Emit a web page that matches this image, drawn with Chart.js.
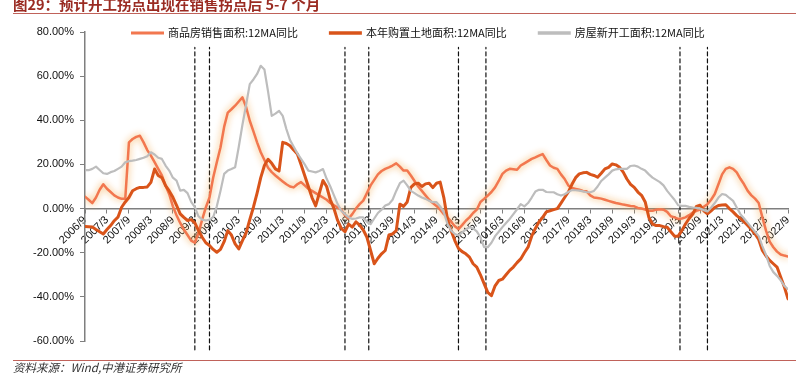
<!DOCTYPE html>
<html>
<head>
<meta charset="utf-8">
<script src="https://cdn.jsdelivr.net/npm/chart.js@4.4.1/dist/chart.umd.min.js"></script>
<style>
  html, body { margin: 0; padding: 0; background: #fff; }
  #wrap { width: 796px; height: 377px; }
</style>
</head>
<body>
<div id="wrap"><canvas id="growthChart" width="796" height="377"></canvas></div>
<script>
// tick labels on the x axis, one every 6 months from 2006/9
const tickLabels = [
	'2006/9', '2007/3', '2007/9', '2008/3', '2008/9', '2009/3', '2009/9', '2010/3', '2010/9',
	'2011/3', '2011/9', '2012/3', '2012/9', '2013/3', '2013/9', '2014/3', '2014/9', '2015/3',
	'2015/9', '2016/3', '2016/9', '2017/3', '2017/9', '2018/3', '2018/9', '2019/3', '2019/9',
	'2020/3', '2020/9', '2021/3', '2021/9', '2022/3', '2022/9'
];

const seriesNames = ['商品房销售面积:12MA同比', '本年购置土地面积:12MA同比', '房屋新开工面积:12MA同比'];

// monthly values (%), first value = 2006/9, last = 2022/9
const salesArea = [
	5.4, 4, 2.5, 5, 8.5, 11, 9, 7.5, 6, 5, 4.4, 4.5,
	30, 31.5, 32.5, 33, 30, 26.5, 24, 21, 18, 15, 10.5, 6.5,
	1, -3, -6.5, -9.5, -12, -14.5, -15.5, -11, -5, 0.5, 5, 14,
	21, 27.7, 37, 43.5, 45, 46.6, 48.5, 50.4, 46, 39.8, 35, 30,
	25.5, 22, 18.5, 16.5, 15, 13.6, 12.3, 11, 10, 9.6, 11, 12,
	10.5, 9, 8, 7, 6, 5, 4, 2.5, 1.5, 0.5, -0.5, -3,
	-4.5, -2.5, 0, 2, 3.6, 7, 10.5, 13, 15.5, 17, 18, 18.7,
	19.5, 20.5, 19, 17.2, 17.2, 15, 12.5, 10, 8, 6, 4, 2.5,
	1.2, -0.5, -2.5, -4, -6, -8, -9.3, -7.5, -5.5, -4, -2, -0.5,
	3, 4.4, 5.9, 7.5, 9.6, 12.5, 15.7, 17.2, 18, 17.8, 17.6, 19.5,
	20.5, 21.5, 22.5, 23.2, 24, 24.7, 22, 19.5, 18.5, 18, 15.5, 13.4,
	10.5, 9.3, 8.9, 8.5, 8, 7.8, 6, 5, 4.8, 4.5, 4, 3.5,
	3, 2.5, 2.2, 1.8, 1.5, 1.2, 1, 0.3, 0, -0.5, -1, -1,
	-0.5, -0.3, -0.5, -1.5, -3.5, -4, -4.7, -4.5, -4, -3, -1.8, -1,
	-0.5, 0.8, 2, 4, 6.6, 11, 15.5, 18, 18.7, 18, 16.4, 13.5,
	11, 8, 6, 4.5, 2.5, -4, -10, -15, -17.5, -19.5, -20.8, -21.3,
	-21.7
];

const landArea = [
	-8.1, -8.2, -8.4, -9.5, -10.5, -11.5, -9.5, -7.7, -5.5, -3.9, 0.6, 3,
	5, 8.1, 9, 9.6, 9.6, 9.8, 11.9, 17.9, 15, 14, 10.4, 8,
	5.1, 1.5, -2.4, -4, -5.4, -5, -6.5, -10, -13, -15.5, -16.7, -18.5,
	-19.8, -18.5, -15, -10, -12, -16, -18.3, -14.5, -11, -5, 0.6, 7,
	14, 19.5, 22.3, 20.5, 18, 17, 30, 29.5, 28.5, 26.5, 24.7, 20,
	15, 10, 5, 1.2, 7, 12.7, 10, 4, 0, -5.4, -9, -10.5,
	-7, -8.4, -6, -7.5, -9.7, -13, -19, -25, -22.5, -20.5, -19, -12,
	-11.5, -10, 2, 1, 3, 9.6, 11.2, 11.5, 10, 11.2, 11.5, 9.5,
	11.5, 12, 5, -5, -10, -14.5, -18, -19.5, -20.5, -22, -25, -26.5,
	-30, -34, -38, -39.5, -35, -32.6, -32, -30, -28, -26.5, -24.5, -22.8,
	-20, -17.5, -12.5, -9, -6, -4, -1.5, -1, -0.5, 0, 2.5, 5,
	7.5, 11, 14, 15.7, 16.2, 16.4, 15.5, 15, 14.2, 16, 18, 18.7,
	20.2, 19.8, 18.7, 16.5, 13.4, 11, 9.6, 7.5, 6, 3, -4, -7,
	-7.7, -7.7, -8.2, -8.5, -10.5, -12.5, -12.5, -10, -7, -4.5, -2.5, 1,
	1.5, -1, -2.4, -1, 0.5, 1.4, 1.6, 1.7, 0, -1.5, -3.2, -4.5,
	-6, -7.7, -9.5, -11.5, -14, -19, -21.5, -23.5, -25, -26.5, -31, -35.5,
	-40.9
];

const newStarts = [
	17.4, 17.4, 18, 19, 17.5, 16, 15.7, 16.5, 17, 18, 19, 21,
	21.5, 21.7, 22, 22.5, 23, 23.7, 25.5, 24.5, 23, 22.5, 19.5, 17.2,
	14, 12.7, 8.1, 8.5, 7, 3, 0.6, -3.5, -5, -5.4, -5, -3.9,
	1, 8, 15.7, 17.2, 17.9, 18.7, 28, 38, 47, 56.4, 58.5, 61,
	64.7, 63, 53, 42, 43, 44.3, 42, 36, 31, 28, 25, 22.5,
	20, 17.2, 16.8, 16.4, 17, 17.9, 13.5, 10, 6, 2, -1, -2.5,
	-3.9, -4.7, -4.5, -4, -4, -6, -7, -4.5, -2, -0.5, 1.4, 2,
	4, 8, 11.5, 12.7, 10.5, 8, 7, 5.9, 5, 4.4, 3.5, 2.9,
	2.9, 1, -1.7, -7, -10, -11.5, -12.2, -10.8, -9.5, -8.4, -9, -10.3,
	-13, -17.5, -17.5, -15.5, -12.5, -10.5, -8.4, -6.5, -4.7, -2.5, -0.3, 2,
	1, 2.5, 5, 7.7, 8.5, 8.5, 7.5, 7.4, 7.4, 6.5, 5.9, 6.5,
	7.5, 8.4, 8.3, 8.1, 7.8, 7.4, 7.4, 8, 10, 12.5, 14, 15.5,
	17.2, 17.8, 18, 18, 18, 19.3, 19.5, 19, 18, 17.2, 15.5, 14,
	13, 12, 10.5, 8, 6, 4, 1.5, 1.2, 1.2, 0.8, 0.5, 0.3,
	0, -0.7, -1.3, 0.5, 2.5, 5, 6.6, 6.2, 4.8, 3.5, 0.5, -2.5,
	-4.5, -6.5, -8.5, -10.5, -12.5, -17, -21, -26, -28.8, -30.5, -32.5, -35,
	-36.5
];

// turning points marked with dashed lines (months after 2006/9)
const turnMonths = [30, 34, 71, 77.5, 102, 109.5, 162.5, 170];

const FONT = '"Liberation Sans", "Noto Sans CJK SC", sans-serif';
const CJK = '"Noto Sans CJK SC", "Liberation Sans", sans-serif';

function toPoints(values) {
	return values.map(function (v, i) { return { x: i, y: v }; });
}

const lineDatasets = [
	{ label: seriesNames[0], data: toPoints(salesArea), borderColor: '#F2774F', borderWidth: 2.5, order: 2 },
	{ label: seriesNames[1], data: toPoints(landArea), borderColor: '#D9541A', borderWidth: 3, order: 1 },
	{ label: seriesNames[2], data: toPoints(newStarts), borderColor: '#BDBDBD', borderWidth: 2.2, order: 0 },
];

const dashDatasets = turnMonths.map(function (m) {
	return {
		label: '',
		data: [{ x: m, y: -64 }, { x: m, y: 73 }],
		borderColor: '#111',
		borderWidth: 1.2,
		borderDash: [4, 3],
		clip: false,
		order: 3,
		isMarker: true,
	};
});

// soft orange halo round the sales line
const glowPlugin = {
	id: 'glow',
	beforeDatasetDraw(chart, args) {
		if (args.index !== 0) return;
		const c = chart.ctx;
		c.save();
		c.shadowColor = 'rgba(243,165,70,0.95)';
		c.shadowBlur = 7;
	},
	afterDatasetDraw(chart, args) {
		if (args.index === 0) chart.ctx.restore();
	}
};

// title, rules, source note and the legend
const framePlugin = {
	id: 'frame',
	afterDraw(chart) {
		const c = chart.ctx;
		c.save();
		c.fillStyle = '#9A2B22';
		c.font = 'bold 14.5px ' + CJK;
		c.textBaseline = 'alphabetic';
		c.fillText('图29：预计开工拐点出现在销售拐点后 5-7 个月', 13, 9.5);

		c.strokeStyle = '#C0625A';
		c.lineWidth = 1.2;
		c.beginPath();
		c.moveTo(13, 13.5); c.lineTo(796, 13.5);
		c.moveTo(13, 360.5); c.lineTo(796, 360.5);
		c.stroke();

		c.fillStyle = '#333';
		c.font = 'italic 11.5px ' + CJK;
		c.textBaseline = 'middle';
		c.fillText('资料来源：Wind,中港证券研究所', 13, 368);

		// legend
		let x = 131;
		const y = 33;
		c.font = '11px ' + CJK;
		c.fillStyle = '#111';
		for (let i = 0; i < 3; i++) {
			const ds = chart.data.datasets[i];
			c.strokeStyle = ds.borderColor;
			c.lineWidth = i === 0 ? 3 : 3.5;
			c.beginPath();
			c.moveTo(x, y); c.lineTo(x + 33, y);
			c.stroke();
			x += 37;
			c.fillText(ds.label, x, y);
			x += c.measureText(ds.label).width + 31;
		}
		c.restore();
	}
};

const ctx = document.getElementById('growthChart').getContext('2d');
const chart = new Chart(ctx, {
	type: 'line',
	data: {
		datasets: lineDatasets.concat(dashDatasets),
	},
	options: {
		responsive: false,
		animation: false,
		parsing: true,
		layout: { padding: { top: 32, bottom: 36, left: 0, right: 8 } },
		elements: {
			point: { radius: 0 },
			line: { tension: 0, borderJoinStyle: 'round', borderCapStyle: 'round' },
		},
		plugins: {
			legend: { display: false },
			tooltip: { enabled: false },
		},
		scales: {
			x: {
				type: 'linear',
				min: 0,
				max: 192,
				position: { y: 0 },
				afterFit: function (scale) {
					scale.height = 0;
					scale.paddingLeft = 0;
					scale.paddingRight = 0;
				},
				ticks: {
					stepSize: 6,
					autoSkip: false,
					minRotation: 45,
					maxRotation: 45,
					padding: 1,
					color: '#111',
					font: { family: FONT, size: 11 },
					callback: function (value) {
						return tickLabels[Math.round(value / 6)];
					},
				},
				grid: { drawOnChartArea: false, drawTicks: true, tickLength: 4, color: '#7F7F7F', lineWidth: 1 },
				border: { display: true, color: '#7F7F7F', width: 1.5 },
			},
			y: {
				min: -60,
				max: 80,
				afterFit: function (scale) {
					scale.width = 85;
					scale.paddingTop = 0;
					scale.paddingBottom = 0;
				},
				ticks: {
					stepSize: 20,
					padding: 6,
					color: '#111',
					font: { family: FONT, size: 11 },
					callback: function (value) {
						return value.toFixed(2) + '%';
					},
				},
				grid: { drawOnChartArea: false, drawTicks: true, tickLength: 5, color: '#7F7F7F' },
				border: { display: true, color: '#7F7F7F', width: 1.5 },
			},
		},
	},
	plugins: [glowPlugin, framePlugin],
});
</script>
</body>
</html>
